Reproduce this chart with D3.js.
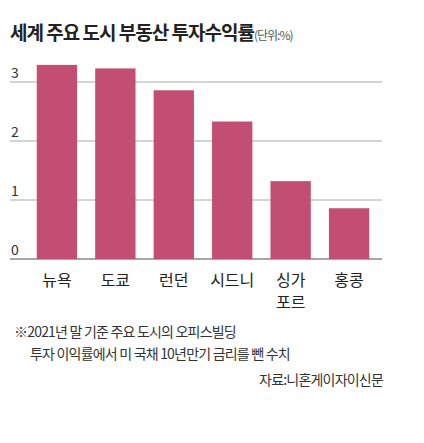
<!DOCTYPE html><html><head><meta charset="utf-8"><script src="https://cdn.jsdelivr.net/npm/d3@7"></script>
<style>body{margin:0;background:#fff}text{font-family:"Noto Sans CJK KR",sans-serif}</style></head><body><svg id="c" width="424" height="443"></svg><script>
const categories=[["뉴욕"],["도쿄"],["런던"],["시드니"],["싱가","포르"],["홍콩"]];
const values=[3.29,3.23,2.86,2.33,1.32,0.86];
const ticks=[0,1,2,3];
const svg=d3.select("#c");
const x=d3.scaleBand().domain(d3.range(6)).range([28,378]).paddingInner(0.31).paddingOuter(0.15);
const y=d3.scaleLinear().domain([0,3]).range([259,82]);
svg.append("text").attr("x",10).attr("y",40).attr("font-size",19).attr("font-weight",700).attr("fill","#222").attr("letter-spacing",-1).text("세계 주요 도시 부동산 투자수익률").append("tspan").attr("font-size",12).attr("font-weight",400).attr("fill","#555").text("(단위:%)");
ticks.forEach(t=>{svg.append("line").attr("x1",10).attr("x2",382).attr("y1",y(t)).attr("y2",y(t)).attr("stroke",t==0?"#888":"#aaa").attr("stroke-width",t==0?1.5:1);
svg.append("text").attr("x",11).attr("y",y(t)-4).attr("font-size",14).attr("fill","#333").text(t);});
svg.selectAll("rect").data(values).join("rect").attr("x",(d,i)=>x(i)).attr("width",x.bandwidth()).attr("y",d=>y(d)).attr("height",d=>y(0)-y(d)).attr("fill","#c24f73");
categories.forEach((c,i)=>c.forEach((s,j)=>svg.append("text").attr("x",x(i)+x.bandwidth()/2).attr("y",286+j*22).attr("text-anchor","middle").attr("font-size",16).attr("fill","#222").text(s)));
const notes=[["※2021년 말 기준 주요 도시의 오피스빌딩",14,337,"start"],["투자 이익률에서 미 국채 10년만기 금리를 뺀 수치",30,359,"start"],["자료:니혼게이자이신문",383,385,"end"]];
notes.forEach(n=>svg.append("text").attr("x",n[1]).attr("y",n[2]).attr("text-anchor",n[3]).attr("font-size",14).attr("fill","#333").attr("letter-spacing",-0.8).text(n[0]));
</script></body></html>
